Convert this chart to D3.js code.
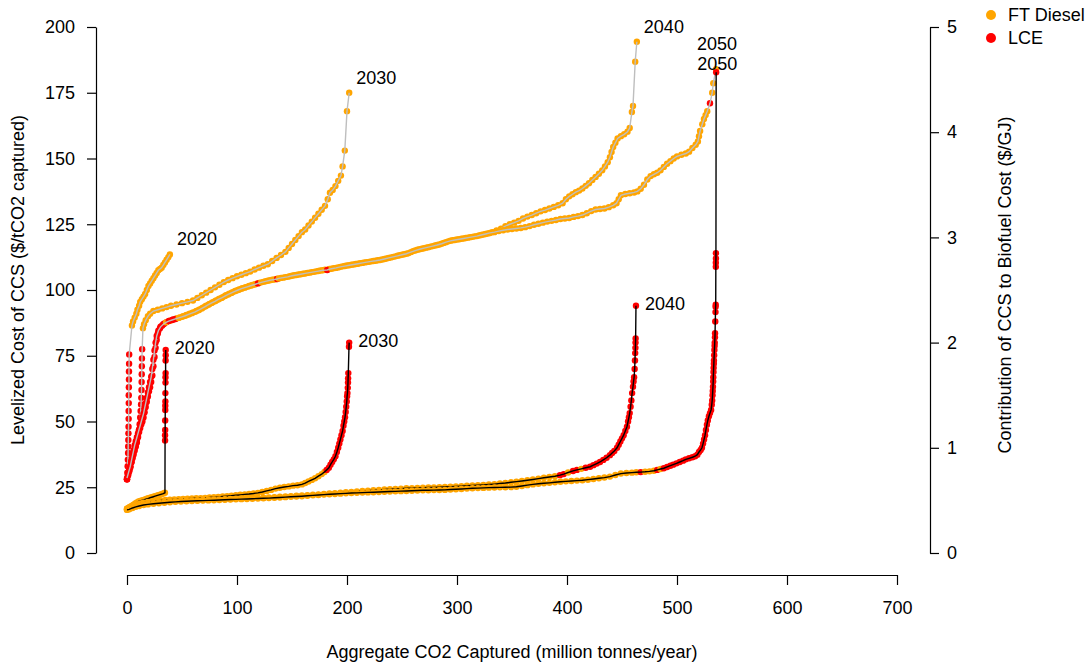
<!DOCTYPE html>
<html><head><meta charset="utf-8">
<script src="https://cdn.jsdelivr.net/npm/d3@7"></script>
<style>
body{margin:0;background:#fff}
svg{display:block}
text{font-family:"Liberation Sans",Arial,Helvetica,sans-serif;fill:#000}
</style>
</head><body>
<svg id="chart" width="1092" height="665"></svg>
<script>
// ---------------- DATA ----------------
// point = [aggregate CO2 captured (Mt/yr), value, fuel type index (0 = FT Diesel, 1 = LCE)]
const fuelTypes = ["FT Diesel", "LCE"];
const fuelColors = ["#FFA500", "#FF0000"];
const years = ["2020", "2030", "2040", "2050"];
const xTicks = [0, 100, 200, 300, 400, 500, 600, 700];
const leftTicks = [0, 25, 50, 75, 100, 125, 150, 175, 200];
const rightTicks = [0, 1, 2, 3, 4, 5];

// Levelized cost of CCS ($/tCO2 captured) - left axis
const upper2020 = [
[0,28,1],[0.3,30.5,1],[0.6,33,1],[0.8,35.5,1],[1,38,1],[1.1,40.5,1],[1.2,43,1],[1.3,45.5,1],[1.4,48,1],[1.5,51,1],[1.5,54,1],[1.6,57,1],[1.6,60,1],[1.7,63,1],[1.8,66,1],[1.8,69,1],[1.9,72,1],[2,75.5,1],
[4.5,86.5,0],[5.5,88,0],[7,89.5,0],[8.5,91,0],[9.5,92.5,0],[11,94,0],[12,95.5,0],[13.5,96.5,0],[15,97.5,0],[16.5,98.5,0],[18,100,0],[19.5,101.5,0],[21,102.5,0],[22.5,103.5,0],[24,104.5,0],[25.5,105.5,0],[27,106.5,0],[28.5,107.5,0],[30,108,0],[31.5,108.5,0],[33,109.5,0],[34.5,110.5,0],[36,111.5,0],[37.5,112.5,0],[39,113.5,0]
];
const upper2030 = [
[0,28,1],[1,30,1],[2,31.5,1],[3,33,1],[4,34.5,1],[5,36,1],[6,37.5,1],[7,39,1],[8,40.5,1],[9,42,1],[10,44,1],[10.8,46.5,1],[11.5,49,1],[12,51.5,1],[12.4,54,1],[12.8,56.5,1],[13,59,1],[13.2,62,1],[13.3,65,1],[13.4,68,1],[13.5,71,1],[13.6,74,1],[13.8,77.5,1],
[14.5,85.5,0],[15.5,87,0],[17,88.5,0],[19,90,0],[21,91,0],[24,92,0],[28,92.5,0],[32,93,0],[36,93.5,0],[40,94,0],[45,94.5,0],[50,95,0],[55,95.5,0],[60,96,0],[64,97,0],[68,98,0],[72,99,0],[76,100,0],[80,101,0],[84,102,0],[88,103,0],[92,103.8,0],[96,104.5,0],[100,105.2,0],[104,105.8,0],[108,106.4,0],[112,107,0],[116,107.8,0],[120,108.5,0],[124,109.2,0],[128,109.8,0],[132,111,0],[136,112.2,0],[140,113.3,0],[144,114.5,0],[147,116,0],[150,117.5,0],[153,119,0],[156,120.5,0],[159,122,0],[162,123,0],[165,124.5,0],[168,126,0],[171,127.5,0],[174,129,0],[177,130.5,0],[180,132,0],[182.5,134.5,0],[184.5,137,0],[187,138,0],[189.5,139.5,0],[192,141.5,0],[194.5,143.5,0],[196,147,0],[198,153,0],[200,168,0],[202,175,0]
];
const upper2040 = [
[0,28,1],[1,29.5,1],[2,31,1],[3,32.5,1],[4,34.5,1],[5,36.5,1],[6,38.5,1],[7,40,1],[8,41.5,1],[9,43,1],[10,44.5,1],[11,46,1],[12,47.5,1],[13,49,1],[14,50,1],[15,51.5,1],[16,53.5,1],[17,55.5,1],[18,57.5,1],[19,59.5,1],[20,61.5,1],[21,63,1],[22,65,1],[23,67.5,1],[24,71,1],[25,74.5,1],[26,78,1],[27,81,1],[28,83.5,1],[30,85.5,1],[32,86.5,1],[34,87.3,1],[36,87.8,1],[39,88.3,0],[42,88.8,1],[45,89.2,0],[48,89.6,0],[51,90,0],[54,90.5,0],[57,91,0],[60,91.5,0],[63,92,0],[66,92.6,0],[69,93.3,0],[72,94,0],[75,94.7,0],[78,95.4,0],[81,96,0],[84,96.7,0],[87,97.3,0],[90,98,0],[93,98.6,0],[96,99.2,0],[99,99.7,0],[102,100.2,0],[105,100.7,0],[108,101.1,0],[111,101.5,0],[114,101.9,0],[117,102.3,0],[120,102.7,0],[124,103.1,0],[128,103.5,0],[132,103.9,0],[136,104.2,0],[140,104.6,0],[144,104.9,0],[148,105.2,0],[152,105.6,0],[156,105.9,0],[160,106.2,0],[164,106.5,0],[168,106.8,0],[172,107.1,0],[176,107.4,0],[180,107.7,0],[184,108,0],[188,108.3,0],[192,108.6,0],[196,109,0],[200,109.3,0],[204,109.6,0],[208,109.9,0],[212,110.2,0],[216,110.5,0],[220,110.7,0],[224,111,0],[228,111.3,0],[232,111.6,0],[236,112,0],[240,112.4,0],[244,112.8,0],[248,113.2,0],[252,113.6,0],[256,114,0],[260,114.8,0],[264,115.3,0],[268,115.7,0],[272,116.1,0],[276,116.5,0],[280,116.9,0],[284,117.3,0],[288,117.9,0],[292,118.5,0],[296,118.9,0],[300,119.2,0],[304,119.5,0],[308,119.8,0],[312,120.1,0],[316,120.4,0],[320,120.7,0],[324,121.1,0],[328,121.5,0],[332,122,0],[336,122.6,0],[340,123.3,0],[344,124.3,0],[348,125,0],[352,125.6,0],[356,126.3,0],[360,127.2,0],[364,127.9,0],[368,128.5,0],[372,129.2,0],[376,129.9,0],[380,130.4,0],[384,131,0],[388,131.6,0],[392,132.2,0],[396,133,0],[399,134.5,0],[402,135.6,0],[405,136.4,0],[408,137.2,0],[411,137.8,0],[414,138.6,0],[417,139.6,0],[420,140.6,0],[423,141.8,0],[426,143,0],[429,144.2,0],[432,145.5,0],[434.5,147,0],[437,148.6,0],[439,150.5,0],[440.5,152.5,0],[442,154.4,0],[444,156,0],[446,157.6,0],[449,158.5,0],[452,159.2,0],[455,160.2,0],[457,161.6,0],[459,167.7,0],[460,170,0],[462,186.8,0],[463.5,194.4,0]
];
const upper2050 = [
[0,28.5,1],[1,30,1],[2,31.5,1],[3,33,1],[4,35,1],[5,37,1],[6,39,1],[7,41,1],[8,42.5,1],[9,44,1],[10,45.5,1],[11,47,1],[12,48.5,1],[13,50,1],[14,51.5,1],[15,53,1],[16,55,1],[17,57,1],[18,59,1],[19,61,1],[20,63,1],[21,65,1],[22,67,1],[23,70,1],[24,73.5,1],[25,77,1],[26,80,1],[27,82.5,1],[28.5,84.5,1],[30.5,86,1],[33,87,1],[35.5,87.7,0],[38,88.2,1],[41,88.6,1],[44,89,1],[47,89.4,0],[50,89.8,0],[53,90.2,0],[56,90.7,0],[59,91.2,0],[62,91.7,0],[65,92.3,0],[68,93,0],[71,93.7,0],[74,94.4,0],[77,95.1,0],[80,95.7,0],[83,96.4,0],[86,97,0],[89,97.7,0],[92,98.3,0],[95,98.9,0],[98,99.5,0],[101,100,0],[104,100.5,0],[107,100.9,0],[110,101.3,0],[113,101.7,0],[116,102.1,0],[119,102.5,1],[122,102.9,0],[126,103.3,0],[130,103.7,0],[134,104,0],[136.5,104.2,1],[138,104.4,0],[142,104.7,0],[146,105,0],[150,105.4,0],[154,105.7,0],[158,106,0],[162,106.3,0],[166,106.6,0],[170,106.9,0],[174,107.2,0],[178,107.5,0],[182,107.6,1],[186,108.1,0],[190,108.4,0],[194,108.8,0],[198,109.1,0],[202,109.4,0],[206,109.7,0],[210,110,0],[214,110.3,0],[218,110.6,0],[222,110.9,0],[226,111.1,0],[230,111.4,0],[234,111.8,0],[238,112.2,0],[242,112.6,0],[246,113,0],[250,113.4,0],[254,113.8,0],[258,114.4,0],[262,115,0],[266,115.5,0],[270,115.9,0],[274,116.3,0],[278,116.7,0],[282,117.1,0],[286,117.6,0],[290,118.2,0],[294,118.7,0],[298,119,0],[302,119.3,0],[306,119.6,0],[310,119.9,0],[314,120.2,0],[318,120.5,0],[322,120.9,0],[326,121.3,0],[330,121.7,0],[334,122,0],[338,122.4,0],[342,122.7,0],[346,123,0],[350,123.2,0],[354,123.4,0],[358,123.6,0],[362,123.9,0],[366,124.3,0],[370,124.8,0],[374,125.2,0],[378,125.6,0],[382,126,0],[386,126.3,0],[390,126.6,0],[394,127,0],[398,127.2,0],[402,127.4,0],[406,127.8,0],[410,128.1,0],[414,128.5,0],[418,129.2,0],[422,130,0],[426,130.6,0],[430,130.8,0],[434,131,0],[438,131.5,0],[442,132.2,0],[445,133,0],[447,134.5,0],[449,136,0],[453,136.5,0],[457,136.8,0],[461,137.1,0],[464,137.5,0],[467,138.5,0],[470,140,0],[473,142,0],[476,143.3,0],[479,144,0],[482,144.6,0],[485,145.5,0],[488,146.8,0],[491,148,0],[494,149,0],[497,150,0],[500,150.8,0],[504,151.4,0],[508,151.9,0],[511,152.6,0],[514,154,0],[517,155.2,0],[519,156.5,0],[520,158.5,0],[521,160.5,0],[523,163,0],[524.5,165,0],[526,166.5,0],[527.5,168,0],[530,171,1],[532,175,0],[533,178.6,0],[535.5,184,0]
];

// Contribution of CCS to biofuel cost ($/GJ) - right axis
const lower2020 = [
[0,0.42,0],[1.5,0.43,0],[3,0.44,0],[4.5,0.45,0],[6,0.46,0],[7.5,0.47,0],[9,0.48,0],[10.5,0.49,0],[12,0.495,0],[13.5,0.5,0],[15,0.505,0],[16.5,0.51,0],[18,0.515,0],[19.5,0.52,0],[21,0.525,0],[22.5,0.53,0],[24,0.535,0],[25.5,0.54,0],[27,0.545,0],[28.5,0.55,0],[30,0.555,0],[31.5,0.56,0],[33,0.565,0],[34.5,0.573,0],
[34.6,1.07,1],[34.6,1.12,1],[34.7,1.17,1],[34.7,1.26,1],[34.8,1.36,1],[34.8,1.4,1],[34.9,1.44,1],[34.9,1.52,1],[35,1.62,1],[35,1.67,1],[35.1,1.71,1],[35.1,1.83,1],[35.2,1.88,1],[35.2,1.93,1]
];
const lower2030 = [
[0,0.42,0],[2.5,0.435,0],[5,0.445,0],[7.5,0.455,0],[10,0.465,0],[12.5,0.472,0],[15,0.478,0],[19,0.485,0],[23,0.49,0],[27,0.495,0],[31,0.5,0],[35,0.504,0],[39,0.507,0],[43,0.51,0],[47,0.512,0],[51,0.514,0],[55,0.516,0],[59,0.518,0],[63,0.52,0],[67,0.522,0],[71,0.524,0],[75,0.527,0],[79,0.53,0],[83,0.533,0],[87,0.537,0],[91,0.541,0],[95,0.545,0],[99,0.549,0],[103,0.553,0],[107,0.557,0],[111,0.561,0],[115,0.566,0],[119,0.572,0],[123,0.58,0],[127,0.59,0],[131,0.6,0],[135,0.612,0],[139,0.62,0],[143,0.627,0],[147,0.633,0],[151,0.64,0],[155,0.644,0],[159,0.652,0],[162,0.665,0],[165,0.68,0],[168,0.695,0],[171,0.71,0],[174,0.73,0],[177,0.75,0],[179.5,0.77,0],[181.5,0.79,1],[183.5,0.81,1],[185,0.84,1],[186.5,0.865,1],[188,0.89,1],[189.5,0.92,1],[190.8,0.96,1],[192,1,1],[193,1.04,1],[194,1.08,1],[195,1.12,1],[196,1.16,1],[196.8,1.21,1],[197.5,1.25,1],[198.2,1.29,1],[198.8,1.34,1],[199.3,1.39,1],[199.8,1.44,1],[200.1,1.49,1],[200.4,1.52,1],[200.7,1.57,1],[200.9,1.62,1],[201,1.66,1],[201.2,1.71,1],[201.8,1.96,1],[202,2,1]
];
const lower2040 = [
[0,0.41,0],[2,0.42,0],[5,0.435,0],[8,0.445,0],[11,0.455,0],[15,0.465,0],[19,0.47,0],[24,0.475,0],[29,0.48,0],[34,0.485,0],[39,0.49,0],[44,0.493,0],[49,0.496,0],[54,0.498,0],[59,0.5,0],[64,0.502,0],[69,0.504,0],[74,0.506,0],[79,0.508,0],[84,0.51,0],[89,0.512,0],[94,0.514,0],[99,0.516,0],[104,0.518,0],[109,0.52,0],[114,0.522,0],[119,0.524,0],[124,0.526,0],[129,0.528,0],[134,0.53,0],[139,0.534,0],[144,0.538,0],[149,0.541,0],[154,0.544,0],[159,0.547,0],[164,0.55,0],[169,0.553,0],[174,0.557,0],[179,0.561,0],[184,0.565,0],[189,0.569,0],[194,0.573,0],[199,0.577,0],[204,0.581,0],[209,0.585,0],[214,0.589,0],[219,0.593,0],[224,0.597,0],[229,0.6,0],[234,0.603,0],[239,0.606,0],[244,0.609,0],[249,0.612,0],[254,0.615,0],[259,0.617,0],[264,0.619,0],[269,0.621,0],[274,0.623,0],[279,0.624,0],[284,0.625,0],[289,0.627,0],[294,0.63,0],[299,0.633,0],[304,0.636,0],[309,0.639,0],[314,0.642,0],[319,0.645,0],[324,0.648,0],[329,0.651,0],[334,0.655,0],[339,0.66,0],[344,0.665,0],[349,0.672,0],[354,0.678,0],[359,0.685,0],[364,0.692,0],[369,0.699,0],[374,0.707,0],[379,0.715,0],[384,0.722,0],[389,0.73,0],[393.6,0.74,1],[397,0.75,1],[401,0.765,0],[405.5,0.78,1],[409,0.79,1],[413,0.8,0],[417,0.81,1],[421,0.82,1],[424,0.835,1],[427,0.85,1],[430,0.865,1],[433,0.885,1],[436,0.905,1],[439,0.93,1],[441,0.95,1],[443,0.97,1],[445.5,1,1],[447,1.03,1],[448.5,1.06,1],[450,1.09,1],[451.5,1.12,1],[453,1.16,1],[454.5,1.2,1],[455.5,1.25,1],[456.3,1.29,1],[457,1.33,1],[457.8,1.39,1],[458.5,1.45,1],[459.2,1.52,1],[460,1.58,1],[460.5,1.63,1],[461,1.67,1],[461.5,1.75,1],[461.8,1.83,1],[462,1.9,1],[462.2,1.95,1],[462.3,2,1],[462.4,2.04,1],[462.7,2.35,1]
];
const lower2050 = [
[0,0.41,0],[2,0.415,0],[5,0.428,0],[8,0.438,0],[11,0.447,0],[15,0.456,0],[19,0.462,0],[24,0.468,0],[29,0.473,0],[34,0.478,0],[39,0.482,0],[44,0.486,0],[49,0.489,0],[54,0.492,0],[59,0.494,0],[64,0.496,0],[69,0.498,0],[74,0.5,0],[79,0.502,0],[84,0.504,0],[89,0.506,0],[94,0.508,0],[99,0.51,0],[104,0.512,0],[109,0.514,0],[114,0.516,0],[119,0.518,0],[124,0.52,0],[129,0.522,0],[134,0.525,0],[139,0.528,0],[144,0.531,0],[149,0.534,0],[154,0.537,0],[159,0.54,0],[164,0.544,0],[169,0.548,0],[174,0.552,0],[179,0.555,0],[184,0.558,0],[189,0.561,0],[194,0.564,0],[199,0.567,0],[204,0.57,0],[209,0.572,0],[214,0.574,0],[219,0.576,0],[224,0.578,0],[229,0.58,0],[234,0.582,0],[239,0.584,0],[244,0.586,0],[249,0.588,0],[254,0.59,0],[259,0.592,0],[264,0.594,0],[269,0.596,0],[274,0.597,0],[279,0.598,0],[284,0.599,0],[289,0.6,0],[294,0.603,0],[299,0.606,0],[304,0.609,0],[309,0.612,0],[314,0.615,0],[319,0.617,0],[324,0.619,0],[329,0.621,0],[334,0.623,0],[339,0.624,0],[344,0.625,0],[349,0.626,0],[354,0.63,0],[359,0.637,0],[364,0.645,0],[369,0.652,0],[374,0.658,0],[379,0.663,0],[384,0.667,0],[389,0.672,0],[394,0.677,0],[399,0.681,0],[404,0.685,0],[409,0.688,0],[414,0.691,0],[419,0.697,0],[424,0.704,0],[429,0.711,0],[434,0.717,0],[439,0.726,0],[444,0.741,0],[449,0.755,0],[454,0.76,0],[459,0.764,0],[463,0.767,0],[467,0.769,1],[471,0.772,0],[475,0.776,0],[479,0.782,0],[482,0.79,1],[485,0.798,0],[488,0.806,1],[491,0.818,1],[494,0.83,1],[496.5,0.84,1],[499.5,0.852,1],[502.5,0.865,1],[505.5,0.878,1],[508,0.89,1],[511,0.9,1],[514,0.91,1],[516.5,0.92,1],[518.5,0.935,1],[520,0.96,1],[521.5,0.98,1],[522.7,1,1],[523.7,1.04,1],[524.6,1.08,1],[525.5,1.12,1],[526.3,1.17,1],[527.2,1.22,1],[528,1.26,1],[529,1.3,1],[530,1.33,1],[531,1.36,1],[531.6,1.41,1],[532,1.45,1],[532.3,1.5,1],[532.5,1.54,1],[532.7,1.58,1],[532.9,1.63,1],[533,1.67,1],[533.2,1.72,1],[533.3,1.76,1],[533.5,1.8,1],[533.6,1.83,1],[533.8,1.88,1],[534,1.93,1],[534.2,1.97,1],[534.3,2,1],[534.5,2.05,1],[534.6,2.09,1],[534.8,2.2,1],[535,2.29,1],[535.1,2.34,1],[535.2,2.36,1],[535.3,2.72,1],[535.3,2.76,1],[535.4,2.8,1],[535.4,2.85,1],[535.6,4.57,1]
];

// ---------------- CHART ----------------
const svg = d3.select("#chart");
const FONT = 18;

const x = d3.scaleLinear().domain([0, 700]).range([127, 897]);
const yL = d3.scaleLinear().domain([0, 200]).range([553, 27]);
const yR = d3.scaleLinear().domain([0, 5]).range([553, 27]);

const series = [
  {data: upper2020, year: years[0], y: yL, line: "#BEBEBE", label: "upper"},
  {data: upper2030, year: years[1], y: yL, line: "#BEBEBE", label: "upper"},
  {data: upper2040, year: years[2], y: yL, line: "#BEBEBE", label: "upper"},
  {data: upper2050, year: years[3], y: yL, line: "#BEBEBE", label: "topA"},
  {data: lower2020, year: years[0], y: yR, line: "#000000", label: "lower"},
  {data: lower2030, year: years[1], y: yR, line: "#000000", label: "lower"},
  {data: lower2040, year: years[2], y: yR, line: "#000000", label: "lower"},
  {data: lower2050, year: years[3], y: yR, line: "#000000", label: "topB"}
];

const plot = svg.append("g");
series.forEach(s => {
  const g = plot.append("g");
  g.selectAll("circle").data(s.data).enter().append("circle")
    .attr("cx", d => x(d[0])).attr("cy", d => s.y(d[1]))
    .attr("r", 3.2).attr("fill", d => fuelColors[d[2]]);
  g.append("path").datum(s.data)
    .attr("d", d3.line().x(d => x(d[0])).y(d => s.y(d[1])))
    .attr("fill", "none").attr("stroke", s.line).attr("stroke-width", 1.4);
});

// curve labels
series.forEach(s => {
  const last = s.data[s.data.length - 1];
  const px = x(last[0]), py = s.y(last[1]);
  const t = svg.append("text").text(s.year).style("font-size", FONT + "px")
    .attr("dominant-baseline", "central");
  if (s.label === "upper") t.attr("x", px + 7).attr("y", py - 15);
  else if (s.label === "lower") t.attr("x", px + 9).attr("y", py - 2);
  else if (s.label === "topA") t.attr("x", px + 1).attr("y", py - 25).attr("text-anchor", "middle");
  else t.attr("x", px + 1).attr("y", py - 8).attr("text-anchor", "middle");
});

// axes
function styleAxis(g) {
  g.selectAll("path.domain").attr("stroke", "#000").attr("stroke-width", 1.2);
  g.selectAll(".tick line").attr("stroke", "#000").attr("stroke-width", 1.2);
  g.selectAll(".tick text").style("font-size", FONT + "px")
    .style("font-family", '"Liberation Sans",Arial,Helvetica,sans-serif').attr("fill", "#000");
}
svg.append("g").attr("transform", "translate(0,575)")
  .call(d3.axisBottom(x).tickValues(xTicks).tickFormat(d3.format("d")).tickSize(10).tickSizeOuter(0).tickPadding(16))
  .call(styleAxis);
svg.append("g").attr("transform", "translate(96,0)")
  .call(d3.axisLeft(yL).tickValues(leftTicks).tickFormat(d3.format("d")).tickSize(9).tickSizeOuter(0).tickPadding(12))
  .call(styleAxis);
svg.append("g").attr("transform", "translate(930,0)")
  .call(d3.axisRight(yR).tickValues(rightTicks).tickFormat(d3.format("d")).tickSize(9).tickSizeOuter(0).tickPadding(8))
  .call(styleAxis);

// axis titles
svg.append("text").attr("x", 512).attr("y", 652).attr("text-anchor", "middle")
  .attr("dominant-baseline", "central").style("font-size", FONT + "px")
  .text("Aggregate CO2 Captured (million tonnes/year)");
svg.append("text").attr("transform", "translate(18,280) rotate(-90)").attr("text-anchor", "middle")
  .attr("dominant-baseline", "central").style("font-size", FONT + "px")
  .text("Levelized Cost of CCS ($/tCO2 captured)");
svg.append("text").attr("transform", "translate(1005,285) rotate(-90)").attr("text-anchor", "middle")
  .attr("dominant-baseline", "central").style("font-size", FONT + "px")
  .text("Contribution of CCS to Biofuel Cost ($/GJ)");

// legend
const lg = svg.append("g");
fuelTypes.forEach((f, i) => {
  lg.append("circle").attr("cx", 991).attr("cy", 15 + i * 23).attr("r", 5).attr("fill", fuelColors[i]);
  lg.append("text").attr("x", 1008).attr("y", 15 + i * 23).attr("dominant-baseline", "central")
    .style("font-size", FONT + "px").text(f);
});
</script>
</body></html>
